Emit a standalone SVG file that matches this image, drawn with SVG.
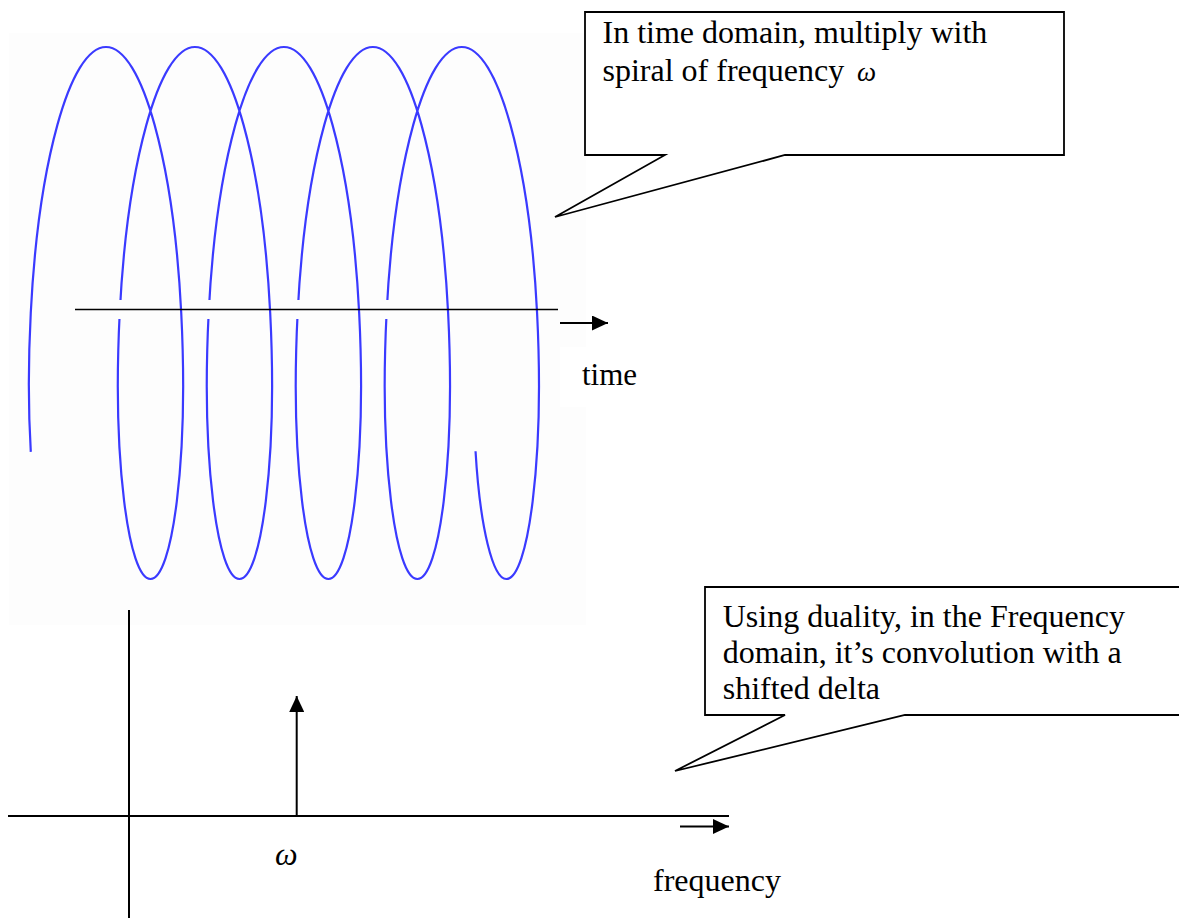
<svg xmlns="http://www.w3.org/2000/svg" width="1179" height="918" viewBox="0 0 1179 918">
<style>
.txt{font-family:"Liberation Serif","Times New Roman",serif;font-size:32px;fill:#000}
.greek{font-family:"Liberation Serif","Times New Roman",serif;font-style:italic;fill:#000}
.ax{stroke:#000;fill:none}
.callout{fill:#fff;stroke:#000;stroke-width:1.8;stroke-linejoin:miter}
.spiral{fill:none;stroke:#3a3aff;stroke-width:2.2;stroke-linejoin:round}
.gap{fill:#fdfdfd}
</style>
<defs>
<marker id="ah" viewBox="0 0 16 15" refX="16" refY="7.5" markerWidth="16" markerHeight="15" markerUnits="userSpaceOnUse" orient="auto"><path d="M0,0 L16,7.5 L0,15 Z" fill="#000"/></marker>
</defs>
<rect x="0" y="0" width="1179" height="918" fill="#fff"/>
<g id="time-plot">
<rect x="9" y="33" width="577" height="592" fill="#fdfdfd"/>
<rect x="560" y="347" width="30" height="60" fill="#fff"/>
<path class="spiral" d="M30.8,451.9 C28.3,410.3 28.2,361.8 30.76,313 c7.41,-146.9 38.56,-266 75.24,-266 c36.68,0 67.83,119.1 75.24,266 c7.41,146.9 -8.9,266 -30.76,266 c-21.86,0 -38.17,-119.1 -30.76,-266 c7.41,-146.9 38.56,-266 75.24,-266 c36.68,0 67.83,119.1 75.24,266 c7.41,146.9 -8.9,266 -30.76,266 c-21.86,0 -38.17,-119.1 -30.76,-266 c7.41,-146.9 38.56,-266 75.24,-266 c36.68,0 67.83,119.1 75.24,266 c7.41,146.9 -8.9,266 -30.76,266 c-21.86,0 -38.17,-119.1 -30.76,-266 c7.41,-146.9 38.56,-266 75.24,-266 c36.68,0 67.83,119.1 75.24,266 c7.41,146.9 -8.9,266 -30.76,266 c-21.86,0 -38.17,-119.1 -30.76,-266 c7.41,-146.9 38.56,-266 75.24,-266 c36.68,0 67.83,119.1 75.24,266 c7.41,146.9 -8.9,266 -30.76,266 c-13.26,0 -26.21,-50.2 -30.78,-127.8"/>
<rect class="gap" x="116" y="300" width="8" height="19"/>
<rect class="gap" x="205" y="300" width="8" height="19"/>
<rect class="gap" x="294" y="300" width="8" height="19"/>
<rect class="gap" x="383" y="300" width="8" height="19"/>
<line class="ax" x1="75" y1="309.5" x2="558" y2="309.5" stroke-width="1.6"/>
</g>
<g id="connectors">
<line class="ax" x1="560" y1="323" x2="608" y2="323" stroke-width="2" marker-end="url(#ah)"/>
<line class="ax" x1="680" y1="826.5" x2="729" y2="826.5" stroke-width="2" marker-end="url(#ah)"/>
<line class="ax" x1="296.7" y1="816" x2="296.7" y2="696" stroke-width="2" marker-end="url(#ah)"/>
</g>
<g id="freq-axes">
<line class="ax" x1="8" y1="816" x2="729" y2="816" stroke-width="2"/>
<line class="ax" x1="129" y1="610" x2="129" y2="918" stroke-width="2"/>
</g>
<g id="label-time"><text class="txt" x="582" y="385" style="font-size:31px">time</text></g>
<g id="label-frequency"><text class="txt" x="653" y="891">frequency</text></g>
<g id="label-omega"><text class="greek" x="275" y="865" font-size="32">ω</text></g>
<g id="callout-time">
<path class="callout" d="M585,12 H1064 V155 H785 L555,217 L665,155 H585 Z"/>
<text class="txt" x="602.5" y="43">In time domain, multiply with</text>
<text class="txt" x="602.5" y="80.5">spiral of frequency</text>
<text class="greek" x="857" y="80.5" font-size="27">ω</text>
</g>
<g id="callout-frequency">
<path class="callout" d="M705,587 H1200 V715 H905 L675,771 L785,715 H705 Z"/>
<text class="txt" x="722.7" y="627">Using duality, in the Frequency</text>
<text class="txt" x="722.7" y="663">domain, it’s convolution with a</text>
<text class="txt" x="722.7" y="699">shifted delta</text>
</g>
</svg>
